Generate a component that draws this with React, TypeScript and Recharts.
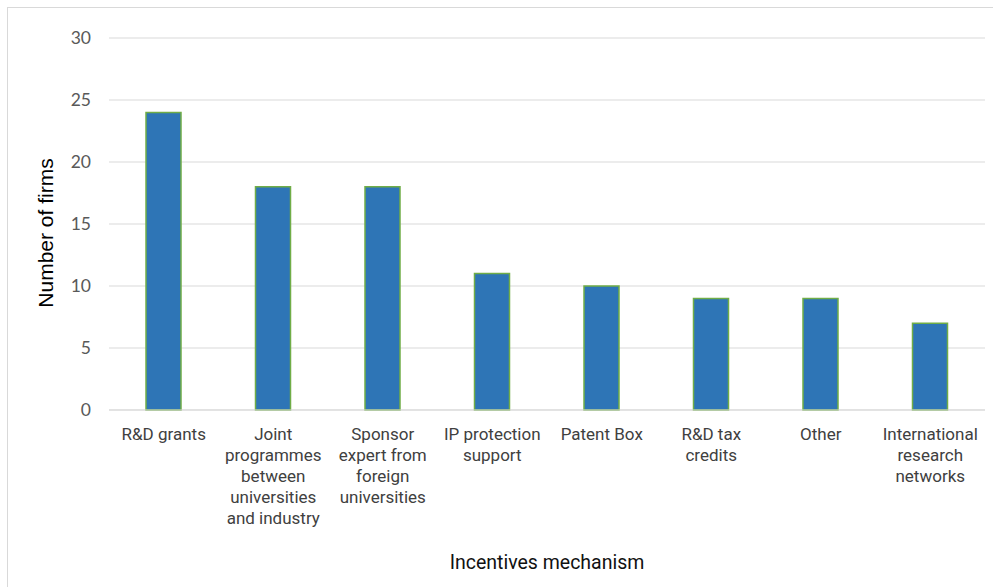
import { BarChart, Bar, XAxis, YAxis, CartesianGrid, Label, Text } from 'recharts'

const categories = [
  'R&D grants',
  'Joint programmes between universities and industry',
  'Sponsor expert from foreign universities',
  'IP protection support',
  'Patent Box',
  'R&D tax credits',
  'Other',
  'International research networks',
]
const firms = [24, 18, 18, 11, 10, 9, 9, 7]
const yTicks = [0, 5, 10, 15, 20, 25, 30]

const data = categories.map((name, i) => ({ name, firms: firms[i] }))

const tickStyle = { fontSize: 17, fontFamily: 'Roboto' }

function CategoryTick(props: any) {
  const { x, y, payload } = props
  return (
    <Text
      x={x}
      y={y}
      width={105}
      textAnchor="middle"
      verticalAnchor="start"
      lineHeight={21}
      fill="#404040"
      style={tickStyle}
      fontSize={17}
      fontFamily="Roboto"
    >
      {payload.value}
    </Text>
  )
}

export default function App() {
  return (
    <div
      style={{
        position: 'absolute',
        left: 7,
        top: 7,
        width: 985,
        height: 585,
        border: '1px solid #d9d9d9',
        background: '#fff',
      }}
    >
      <BarChart
        width={985}
        height={585}
        data={data}
        margin={{ top: 30, right: 8, left: 41, bottom: 23 }}
      >
        <CartesianGrid vertical={false} stroke="#d9d9d9" />
        <XAxis
          dataKey="name"
          interval={0}
          height={160}
          tickLine={false}
          tickMargin={12}
          axisLine={{ stroke: '#d9d9d9' }}
          tick={<CategoryTick />}
        >
          <Label
            content={({ viewBox }: any) => (
              <text
                x={viewBox.x + viewBox.width / 2}
                y={viewBox.y + viewBox.height - 1}
                textAnchor="middle"
                fontFamily="Roboto"
                fontSize={19.5}
                fill="#111"
              >
                Incentives mechanism
              </text>
            )}
          />
        </XAxis>
        <YAxis
          width={60}
          domain={[0, 30]}
          ticks={yTicks}
          tickLine={false}
          axisLine={false}
          tickMargin={12}
          tick={{ fill: '#595959', fontSize: 17.5, fontFamily: 'Lato' }}
        >
          <Label
            content={({ viewBox }: any) => {
              const cx = viewBox.x + 4
              const cy = viewBox.y + viewBox.height / 2 + 9
              return (
                <text
                  x={cx}
                  y={cy}
                  transform={`rotate(-90 ${cx} ${cy})`}
                  textAnchor="middle"
                  fontFamily="Liberation Sans"
                  fontSize={21}
                  fill="#000"
                >
                  Number of firms
                </text>
              )
            }}
          />
        </YAxis>
        <Bar
          dataKey="firms"
          fill="#2e75b6"
          stroke="#70ad47"
          strokeWidth={1.5}
          barSize={35}
          isAnimationActive={false}
        />
      </BarChart>
    </div>
  )
}
